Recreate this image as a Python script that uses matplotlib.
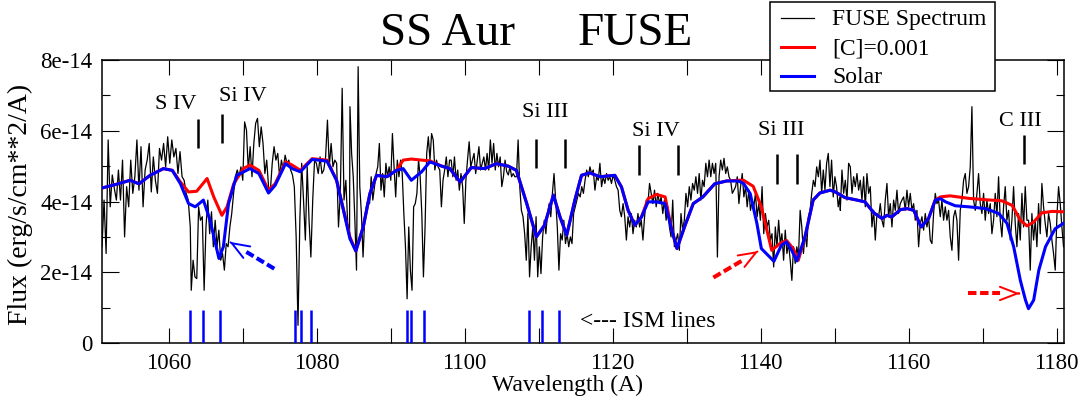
import numpy as np
import matplotlib
matplotlib.use("Agg")
import matplotlib.pyplot as plt
from matplotlib.ticker import FixedLocator, MultipleLocator, FuncFormatter
from matplotlib.lines import Line2D
from matplotlib.patches import Rectangle

plt.rcParams["font.family"] = ["Liberation Serif", "DejaVu Serif"]

W, H = 1087, 404
UNIT = 1e-14  # all flux values below are in units of 1e-14 erg/s/cm**2/A

obs_a1_range = (1051.0, 1062.93)
obs_a1 = [2.72, 4.04, 2.53, 5.74, 3.85, 4.75, 4.37, 4.04, 4.89, 4.04, 5.17, 3.00, 4.42, 3.85,
          5.17, 4.23, 4.70, 5.74, 4.32, 5.55, 3.85, 4.89, 5.17, 5.64, 4.27, 5.26, 4.60, 4.23,
          5.50, 5.17, 5.64, 4.98, 5.83, 5.08, 5.74, 5.26, 5.50, 4.79, 5.41, 4.70, 4.60, 4.23,
          4.04, 3.28]
obs_a2_range = (1063.06, 1084.45)
obs_a2 = [1.49, 2.34, 1.87, 1.82, 3.85, 3.47, 3.57, 1.49, 3.28, 4.04, 3.09, 3.71, 2.72, 3.47,
          2.72, 3.19, 2.34, 2.53, 2.06, 2.81, 2.72, 3.28, 3.66, 4.23, 4.70, 4.89, 4.70, 4.98,
          4.60, 6.25, 6.02, 4.89, 5.55, 4.70, 5.64, 6.21, 6.35, 5.55, 6.11, 5.64, 4.79, 5.17,
          4.42, 4.32, 5.08, 5.55, 5.17, 5.36, 4.70, 5.17, 4.89, 5.31, 5.08, 5.17, 4.89, 4.75,
          4.42, 3.00, 0.50, 3.47, 5.08, 4.04, 2.91, 4.98, 3.47, 2.43, 4.04, 5.17, 5.08, 4.79,
          5.26, 4.79, 4.89, 5.26, 6.30, 4.98, 5.64, 4.98, 5.17, 5.08, 3.28, 4.23, 7.20, 4.04,
          4.60, 3.38, 3.09]
obs_b_range = (1084.51, 1117.38)
obs_b = [6.68, 5.36, 4.70, 3.47, 2.06, 7.81, 4.42, 3.66, 2.43, 3.47, 3.85, 4.04, 3.94, 4.70,
         4.04, 4.42, 4.79, 4.98, 5.64, 4.32, 4.79, 4.13, 5.08, 4.70, 4.98, 4.60, 5.92, 4.98,
         4.13, 5.17, 4.70, 5.17, 4.79, 3.66, 2.72, 1.25, 3.28, 2.06, 1.49, 3.85, 3.94, 4.23,
         5.17, 4.70, 3.66, 1.87, 3.28, 5.36, 5.83, 5.17, 5.92, 5.74, 4.89, 5.17, 4.98, 4.89,
         3.85, 4.60, 4.89, 5.26, 4.70, 5.17, 5.17, 4.70, 5.26, 4.60, 4.89, 4.32, 4.79, 4.42,
         3.38, 4.60, 5.17, 5.69, 4.98, 5.17, 5.36, 4.79, 5.17, 5.55, 4.89, 5.08, 5.26, 4.89,
         5.36, 4.89, 5.74, 5.08, 5.64, 4.89, 5.36, 4.98, 5.26, 4.42, 4.70, 5.17, 4.84, 4.75,
         4.98, 4.70, 4.79, 4.70, 4.70, 5.74, 4.42, 3.75, 3.57, 3.09, 2.34, 3.66, 1.87, 2.72,
         3.28, 2.34, 3.57, 1.87, 2.72, 1.96, 3.00, 3.47, 3.09, 3.66, 3.94, 3.57, 4.23, 4.79,
         4.04, 3.28, 2.06, 3.09, 2.91, 3.47, 2.81, 3.09, 2.72, 3.00, 2.81, 3.66, 3.85, 4.04,
         4.23, 4.13, 4.42, 4.23, 4.60, 4.89, 4.70, 4.98, 4.79, 4.89]
obs_c_range = (1117.39, 1150.71)
obs_c = [4.89, 4.32, 4.70, 4.60, 5.08, 4.42, 4.70, 4.51, 4.79, 4.60, 4.70, 4.51, 4.75, 4.60,
         4.42, 4.32, 3.75, 3.57, 3.94, 3.57, 2.91, 3.57, 3.28, 3.66, 3.09, 3.47, 3.28, 3.66,
         3.28, 3.47, 2.91, 3.57, 4.04, 3.94, 4.51, 4.23, 3.94, 4.32, 3.85, 4.23, 3.94, 4.13,
         3.66, 4.04, 3.47, 3.85, 3.28, 3.00, 4.04, 2.72, 2.91, 3.09, 2.62, 3.66, 3.19, 3.47,
         4.23, 3.85, 4.42, 4.04, 4.51, 4.32, 4.70, 4.23, 4.79, 4.04, 4.60, 4.42, 5.08, 4.70,
         5.17, 4.70, 5.08, 4.79, 5.08, 2.43, 4.70, 5.17, 4.89, 5.22, 4.79, 4.98, 4.70, 4.60,
         4.23, 4.32, 4.42, 4.70, 3.94, 4.42, 4.79, 4.13, 4.42, 3.85, 4.32, 3.75, 4.04, 3.85,
         4.23, 3.57, 3.94, 3.47, 4.42, 3.09, 3.66, 3.28, 3.47, 2.91, 3.09, 2.15, 3.28, 2.72,
         3.47, 2.81, 3.09, 2.34, 3.19, 2.53, 2.81, 2.34, 1.77, 2.72, 2.25, 2.72, 2.43, 3.75,
         3.28, 2.53, 3.09, 2.72, 3.57, 3.75, 4.23, 4.60, 4.42, 4.98, 4.70, 5.17, 4.23, 4.89,
         4.32, 5.08, 5.36, 4.42, 5.17, 4.13, 4.70, 4.42, 3.85, 4.13]
obs_d_range = (1150.77, 1180.94)
obs_d = [3.75, 4.89, 4.23, 4.60, 4.04, 5.08, 4.98, 4.23, 4.70, 4.42, 4.79, 4.32, 4.60, 4.04,
         4.70, 3.85, 4.79, 4.23, 4.42, 3.28, 3.75, 2.91, 3.66, 3.57, 3.94, 3.47, 3.28, 4.04,
         4.51, 3.57, 3.94, 3.28, 4.04, 3.75, 4.32, 3.66, 3.94, 4.04, 4.13, 3.75, 4.32, 3.85,
         4.23, 3.75, 3.94, 3.47, 3.75, 2.72, 3.38, 3.57, 3.19, 3.66, 3.28, 3.57, 2.91, 2.81,
         3.66, 4.23, 3.94, 4.04, 3.57, 4.04, 3.47, 3.85, 3.47, 3.75, 3.00, 2.62, 3.57, 3.75,
         3.47, 2.34, 3.75, 4.04, 4.60, 4.79, 4.23, 4.42, 4.98, 6.68, 4.04, 3.75, 4.23, 4.79,
         3.94, 3.66, 4.23, 3.47, 4.04, 3.66, 3.94, 3.09, 3.47, 4.23, 3.57, 4.70, 3.47, 3.00,
         3.85, 4.42, 3.47, 3.75, 2.91, 3.47, 4.42, 3.38, 2.72, 3.66, 2.91, 4.23, 3.28, 4.42,
         3.47, 3.47, 2.06, 3.66, 2.91, 3.47, 2.72, 3.94, 3.09, 4.51, 3.85, 3.38, 3.00, 3.66,
         3.38, 2.91, 2.53, 2.06, 3.57, 4.42, 3.94, 3.28, 2.72]

# model with [C]=0.001
red_wave = [1050.8, 1053.0, 1054.8, 1056.0, 1057.5, 1059.3, 1060.5, 1061.6, 1062.7, 1063.8,
            1065.2, 1066.1, 1067.2, 1067.9, 1068.8, 1070.1, 1071.0, 1072.2, 1073.5, 1074.4,
            1075.8, 1076.7, 1077.8, 1079.4, 1081.4, 1082.7, 1084.5, 1085.3, 1086.3, 1087.2,
            1088.1, 1089.5, 1090.8, 1091.7, 1092.8, 1094.2, 1095.3, 1096.9, 1098.0, 1099.4,
            1100.9, 1102.7, 1104.3, 1105.9, 1107.0, 1108.4, 1109.7, 1110.8, 1112.0, 1112.9,
            1113.8, 1114.9, 1115.8, 1116.9, 1118.3, 1120.3, 1121.2, 1122.1, 1123.0, 1123.9,
            1124.8, 1125.9, 1127.1, 1128.0, 1128.7, 1129.8, 1130.9, 1132.2, 1133.8, 1135.4,
            1137.0, 1137.7, 1139.0, 1140.1, 1141.5, 1142.6, 1143.5, 1144.4, 1145.1, 1146.0,
            1147.1, 1148.0, 1149.4, 1150.1, 1151.4, 1152.8, 1154.1, 1155.3, 1156.4, 1157.1,
            1157.7, 1158.9, 1159.8, 1160.7, 1161.7, 1162.7, 1163.6, 1164.3, 1165.6, 1168.1,
            1170.4, 1172.6, 1174.0, 1175.1, 1176.0, 1176.9, 1178.0, 1179.4, 1180.9]
red_flux = [4.37, 4.49, 4.60, 4.50, 4.74, 4.93, 4.88, 4.55, 4.27, 4.29,
            4.65, 4.13, 3.61, 3.85, 4.50, 4.93, 5.03, 4.88, 4.32, 4.50,
            5.12, 5.03, 4.88, 5.21, 5.17, 4.60, 3.00, 2.60, 3.28, 4.22,
            4.74, 4.70, 4.88, 5.17, 5.20, 5.17, 5.15, 5.00, 4.93, 4.55,
            4.96, 4.93, 5.07, 5.00, 4.88, 3.94, 3.00, 3.33, 4.18, 3.56,
            3.05, 4.04, 4.74, 4.81, 4.70, 4.74, 4.41, 3.75, 3.33, 3.56,
            4.08, 4.20, 4.13, 3.19, 2.67, 3.33, 3.94, 4.13, 4.50, 4.58,
            4.60, 4.60, 4.43, 3.85, 2.62, 2.81, 2.90, 2.67, 2.34, 3.00,
            4.04, 4.24, 4.32, 4.27, 4.11, 4.05, 3.99, 3.68, 3.52, 3.61,
            3.56, 3.77, 3.80, 3.75, 3.28, 3.52, 4.04, 4.13, 4.16, 4.09,
            4.05, 4.02, 3.89, 3.47, 3.31, 3.42, 3.68, 3.72, 3.71]

# solar abundance model
blue_wave = [1050.8, 1053.0, 1054.8, 1056.0, 1057.5, 1059.3, 1060.5, 1061.6, 1062.7, 1063.6,
             1064.7, 1065.6, 1066.8, 1067.4, 1068.1, 1069.2, 1071.0, 1072.2, 1073.5, 1074.4,
             1075.8, 1076.7, 1077.8, 1079.4, 1081.4, 1082.7, 1084.5, 1085.3, 1086.3, 1087.2,
             1088.1, 1089.5, 1090.8, 1091.7, 1092.8, 1094.2, 1095.3, 1096.9, 1098.0, 1099.4,
             1100.9, 1102.7, 1104.3, 1105.9, 1107.0, 1108.4, 1109.7, 1110.8, 1112.0, 1112.9,
             1113.8, 1114.9, 1115.8, 1116.9, 1118.3, 1120.3, 1121.2, 1122.1, 1123.0, 1123.9,
             1124.8, 1125.9, 1127.1, 1128.0, 1128.7, 1129.8, 1130.9, 1132.2, 1133.8, 1135.4,
             1137.0, 1137.7, 1138.6, 1139.5, 1140.1, 1141.0, 1141.8, 1142.8, 1143.5, 1144.2,
             1144.9, 1146.0, 1147.1, 1148.0, 1149.4, 1150.1, 1151.4, 1152.8, 1154.1, 1155.3,
             1156.4, 1157.1, 1157.7, 1158.9, 1159.8, 1160.7, 1161.7, 1162.7, 1163.6, 1164.3,
             1165.0, 1166.3, 1168.1, 1170.4, 1172.2, 1173.3, 1174.2, 1175.1, 1175.8, 1176.2,
             1176.9, 1177.6, 1178.5, 1179.8, 1180.9]
blue_flux = [4.37, 4.49, 4.60, 4.50, 4.74, 4.93, 4.88, 4.50, 3.94, 3.85,
             4.04, 3.47, 2.39, 2.72, 3.94, 4.74, 4.93, 4.79, 4.24, 4.46,
             5.07, 4.93, 4.84, 5.19, 5.14, 4.60, 2.95, 2.60, 3.28, 4.22,
             4.74, 4.70, 4.88, 4.93, 4.60, 4.84, 5.12, 5.00, 4.93, 4.55,
             4.96, 4.93, 5.07, 5.00, 4.88, 3.94, 3.00, 3.33, 4.18, 3.56,
             3.05, 4.04, 4.74, 4.81, 4.70, 4.74, 4.41, 3.75, 3.33, 3.56,
             3.99, 3.99, 3.94, 3.19, 2.67, 3.33, 3.94, 4.13, 4.50, 4.58,
             4.58, 4.51, 4.22, 3.38, 2.67, 2.48, 2.31, 2.76, 2.86, 2.62,
             2.32, 3.00, 4.04, 4.24, 4.32, 4.27, 4.11, 4.05, 3.99, 3.68,
             3.52, 3.61, 3.56, 3.77, 3.80, 3.75, 3.28, 3.52, 4.04, 4.08,
             3.99, 3.88, 3.85, 3.80, 3.66, 3.38, 2.72, 1.77, 1.21, 0.97,
             1.21, 2.06, 2.72, 3.23, 3.38]

# interstellar lines
ism_wave = [1062.84, 1064.59, 1066.89, 1077.07, 1077.88, 1079.24,
            1092.20, 1092.74, 1094.45, 1108.72, 1110.52, 1112.82]
ism_height = 0.92

# photospheric line identifications: label, label x, label baseline, tick positions, tick span
line_ids = [
    ("S IV", 1060.9, 6.61, [1063.92], (5.50, 6.32)),
    ("Si IV", 1070.0, 6.84, [1067.21], (5.66, 6.47)),
    ("Si III", 1110.85, 6.38, [1109.6, 1113.5], (4.95, 5.76)),
    ("Si IV", 1125.9, 5.85, [1123.6, 1128.85], (4.75, 5.60)),
    ("Si III", 1142.8, 5.88, [1142.25, 1144.86], (4.49, 5.33)),
    ("C III", 1175.15, 6.13, [1175.54], (5.05, 5.88)),
]

# dashed pointers: (start, tip, colour, shaft fraction)
pointers = [
    ((1074.28, 2.10), (1068.24, 2.86), "blue", 0.66),
    ((1133.62, 1.85), (1139.70, 2.60), "red", 0.66),
    ((1168.06, 1.40), (1175.05, 1.40), "red", 0.62),
]

x_ticks = [1060, 1080, 1100, 1120, 1140, 1160, 1180]
y_ticks = [0, 2, 4, 6, 8]


def fx(px):
    return px / W


def fy(py):
    return 1 - py / H


fig = plt.figure(figsize=(W / 100, H / 100), dpi=100)
ax = fig.add_axes([fx(102), fy(343), (1064 - 102) / W, (343 - 60) / H])

segments = [(obs_a1_range, obs_a1), (obs_a2_range, obs_a2), (obs_b_range, obs_b),
            (obs_c_range, obs_c), (obs_d_range, obs_d)]
obs_wave = np.concatenate([np.linspace(r[0], r[1], len(f)) for r, f in segments])
obs_flux = np.concatenate([np.array(f) for r, f in segments]) * UNIT

ax.plot(obs_wave, obs_flux, color="black", lw=0.9, zorder=2)
ax.plot(red_wave, np.array(red_flux) * UNIT, color="red", lw=2.2, zorder=3)
ax.plot(blue_wave, np.array(blue_flux) * UNIT, color="blue", lw=2.2, zorder=4)

ax.vlines(ism_wave, 0, ism_height * UNIT, color="blue", lw=1.8, zorder=5)
ax.text(1115.58, 0.44 * UNIT, "<--- ISM lines", fontsize=17, ha="left", va="baseline")

for label, lx, ly, ticks, (y0, y1) in line_ids:
    ax.text(lx, ly * UNIT, label, fontsize=16, ha="center", va="baseline")
    ax.vlines(ticks, y0 * UNIT, y1 * UNIT, color="black", lw=1.8)

for (x0, y0), (x1, y1), color, frac in pointers:
    xs = x0 + frac * (x1 - x0)
    ys = y0 + frac * (y1 - y0)
    ax.plot([x0, xs], [y0 * UNIT, ys * UNIT], color=color, lw=2.9,
            linestyle=(0, (2.1, 0.9)), solid_capstyle="butt", zorder=6)
    xh = x0 + 0.98 * (x1 - x0)
    yh = y0 + 0.98 * (y1 - y0)
    ax.annotate("", xy=(x1, y1 * UNIT), xytext=(xh, yh * UNIT),
                arrowprops=dict(arrowstyle="->,head_length=1.25,head_width=0.48",
                                color=color, lw=1.4, shrinkA=0, shrinkB=0),
                zorder=6)

ax.set_xlim(1051, 1181)
ax.set_ylim(0, 8 * UNIT)
ax.xaxis.set_major_locator(FixedLocator(x_ticks))
ax.xaxis.set_minor_locator(FixedLocator([t + 10 for t in x_ticks[:-1]]))
ax.yaxis.set_major_locator(FixedLocator([v * UNIT for v in y_ticks]))
ax.yaxis.set_minor_locator(FixedLocator([(v + 1) * UNIT for v in y_ticks[:-1]]))
ax.yaxis.set_major_formatter(FuncFormatter(lambda v, p: "0" if abs(v) < 1e-20 else f"{v:.0e}"))

ax.tick_params(which="both", direction="in", top=True, right=True, width=0.8,
               labelsize=16.5, colors="black")
ax.tick_params(axis="x", which="both", length=11, pad=7)
ax.tick_params(axis="y", which="major", length=12, pad=7)
ax.tick_params(axis="y", which="minor", length=6)
for sp in ax.spines.values():
    sp.set_linewidth(1.1)

ax.set_xlabel("Wavelength (A)", fontsize=17)
ax.xaxis.set_label_coords(0.484, -0.112)
ax.set_ylabel("Flux (erg/s/cm**2/A)", fontsize=20)
ax.yaxis.set_label_coords(-0.072, 0.488)

fig.text(fx(380), fy(45), "SS Aur", fontsize=34, va="baseline", ha="left")
fig.text(fx(578), fy(45), "FUSE", fontsize=34, va="baseline", ha="left")

# legend box drawn over the top of the frame
fig.add_artist(Rectangle((fx(770), fy(91)), (995 - 770) / W, (91 - 1.5) / H,
                         transform=fig.transFigure, facecolor="white",
                         edgecolor="black", lw=1.1, zorder=10))
legend_rows = [("FUSE Spectrum", "black", 0.9, 25), ("[C]=0.001", "red", 2.2, 54),
               ("Solar", "blue", 2.2, 83)]
for label, color, lw, base in legend_rows:
    fig.add_artist(Line2D([fx(781), fx(814)], [fy(base - 7.5)] * 2, color=color, lw=lw,
                          transform=fig.transFigure, zorder=11))
    fig.text(fx(832), fy(base), label, fontsize=17, va="baseline", ha="left", zorder=11)

fig.savefig("out.png", dpi=100)
